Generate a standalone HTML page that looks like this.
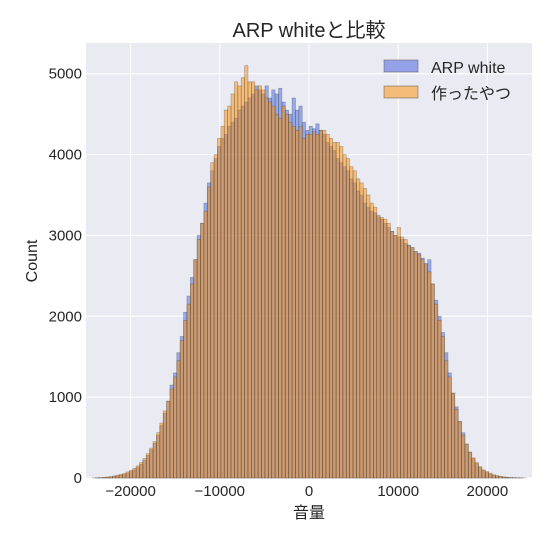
<!DOCTYPE html>
<html><head><meta charset="utf-8"><style>
body{margin:0;background:#fff;}
svg text{font-family:"Liberation Sans","Noto Sans CJK JP",sans-serif;fill:#262626;}
</style></head><body>
<svg id="chart" width="553" height="543" viewBox="0 0 553 543" xmlns="http://www.w3.org/2000/svg">
<rect x="0" y="0" width="553" height="543" fill="#fff"/>
<rect x="86" y="43" width="446" height="435" fill="#eaeaf2"/>
<g id="grid"></g>
<g id="bars"></g>
<g id="ticks"></g>
<text x="309" y="37" font-size="20" text-anchor="middle">ARP whiteと比較</text>
<text x="309" y="518" font-size="16" text-anchor="middle">音量</text>
<text transform="translate(37,261) rotate(-90)" font-size="16" text-anchor="middle">Count</text>
<g>
<rect x="384" y="60" width="34" height="12" fill="#95a2e9" stroke="#555" stroke-opacity="0.5"/>
<text x="431" y="73" font-size="16">ARP white</text>
<rect x="384" y="86" width="34" height="12" fill="#f4bb79" stroke="#555" stroke-opacity="0.5"/>
<text x="431" y="99" font-size="16">作ったやつ</text>
</g>
</svg>
<script>
const binStart = -24700;
const binWidth = 380;
const arpCounts = [0,0,2,3,5,8,12,18,25,35,45,60,80,100,130,170,220,280,350,430,530,650,800,950,1150,1300,1550,1750,2050,2250,2480,2700,3000,3150,3400,3650,3800,3950,4100,4200,4250,4350,4400,4450,4550,4600,4650,4700,4750,4850,4800,4750,4850,4700,4800,4750,4820,4650,4550,4500,4700,4550,4600,4400,4300,4350,4320,4380,4300,4250,4150,4100,4050,3950,3900,3850,3800,3700,3650,3550,3500,3400,3350,3300,3280,3230,3200,3150,3100,3050,3000,2980,2950,2900,2880,2850,2800,2780,2720,2650,2700,2400,2200,2000,1800,1550,1300,1050,880,700,560,420,320,240,180,130,95,70,50,35,25,17,10,7,4,3,2,1,0,0];
const mineCounts = [0,1,3,5,8,12,18,25,35,45,55,75,95,120,150,190,240,300,370,450,560,680,830,950,1100,1250,1450,1700,1950,2150,2400,2700,2950,3150,3300,3600,3900,4000,4200,4350,4550,4600,4750,4900,4850,4950,5100,4900,4900,4800,4850,4800,4700,4650,4600,4500,4450,4600,4500,4400,4350,4300,4350,4200,4250,4250,4280,4250,4300,4300,4250,4200,4150,4150,4100,4000,3950,3850,3800,3700,3650,3580,3500,3400,3350,3250,3220,3200,3150,3050,3000,3100,2980,2950,2870,2850,2800,2760,2700,2650,2550,2400,2150,1950,1750,1450,1250,1050,850,700,530,420,320,250,190,140,100,80,60,40,30,20,14,9,6,4,3,2,1,0];
const xTicks = [-20000,-10000,0,10000,20000];
const xTickLabels = ["−20000","−10000","0","10000","20000"];
const yTicks = [0,1000,2000,3000,4000,5000];

const NS = "http://www.w3.org/2000/svg";
const X0 = 86, X1 = 532, Y0 = 478, Y1 = 43;
const xMin = -25000, xMax = 25000, yMax = 5380;
function xs(v){ return X0 + (v - xMin) / (xMax - xMin) * (X1 - X0); }
function ys(v){ return Y0 - v / yMax * (Y0 - Y1); }
function mk(tag, attrs, parent){ const e = document.createElementNS(NS, tag); for (const k in attrs) e.setAttribute(k, attrs[k]); parent.appendChild(e); return e; }

const grid = document.getElementById('grid');
const ticks = document.getElementById('ticks');
xTicks.forEach((t, i) => {
  const l = mk('line', {x1: xs(t), x2: xs(t), y1: Y1, y2: Y0, stroke: '#fff', 'stroke-width': 1}, grid);
  
  
  const tx = mk('text', {x: xs(t), y: Y0 + 18, 'font-size': 15, 'text-anchor': 'middle'}, ticks);
  tx.textContent = xTickLabels[i];
  
  
});
yTicks.forEach(t => {
  const l = mk('line', {x1: X0, x2: X1, y1: ys(t), y2: ys(t), stroke: '#fff', 'stroke-width': 1}, grid);
  
  
  const tx = mk('text', {x: X0 - 4, y: ys(t) + 5, 'font-size': 15, 'text-anchor': 'end'}, ticks);
  tx.textContent = String(t);
  
  
});

const bars = document.getElementById('bars');
function drawSeries(arr, color, name){
  arr.forEach((v, i) => {
    const a = binStart + i * binWidth, b = a + binWidth;
    const r = mk('rect', {x: xs(a), y: ys(v), width: xs(b) - xs(a), height: Y0 - ys(v), fill: color, 'fill-opacity': 0.5, stroke: '#333', 'stroke-opacity': 0.35, 'stroke-width': 0.7}, bars);
    
    
  });
}
drawSeries(arpCounts, '#4169e1', 'bar-arp-white');
drawSeries(mineCounts, '#ff8c00', 'bar-mine');
</script>
</body></html>
